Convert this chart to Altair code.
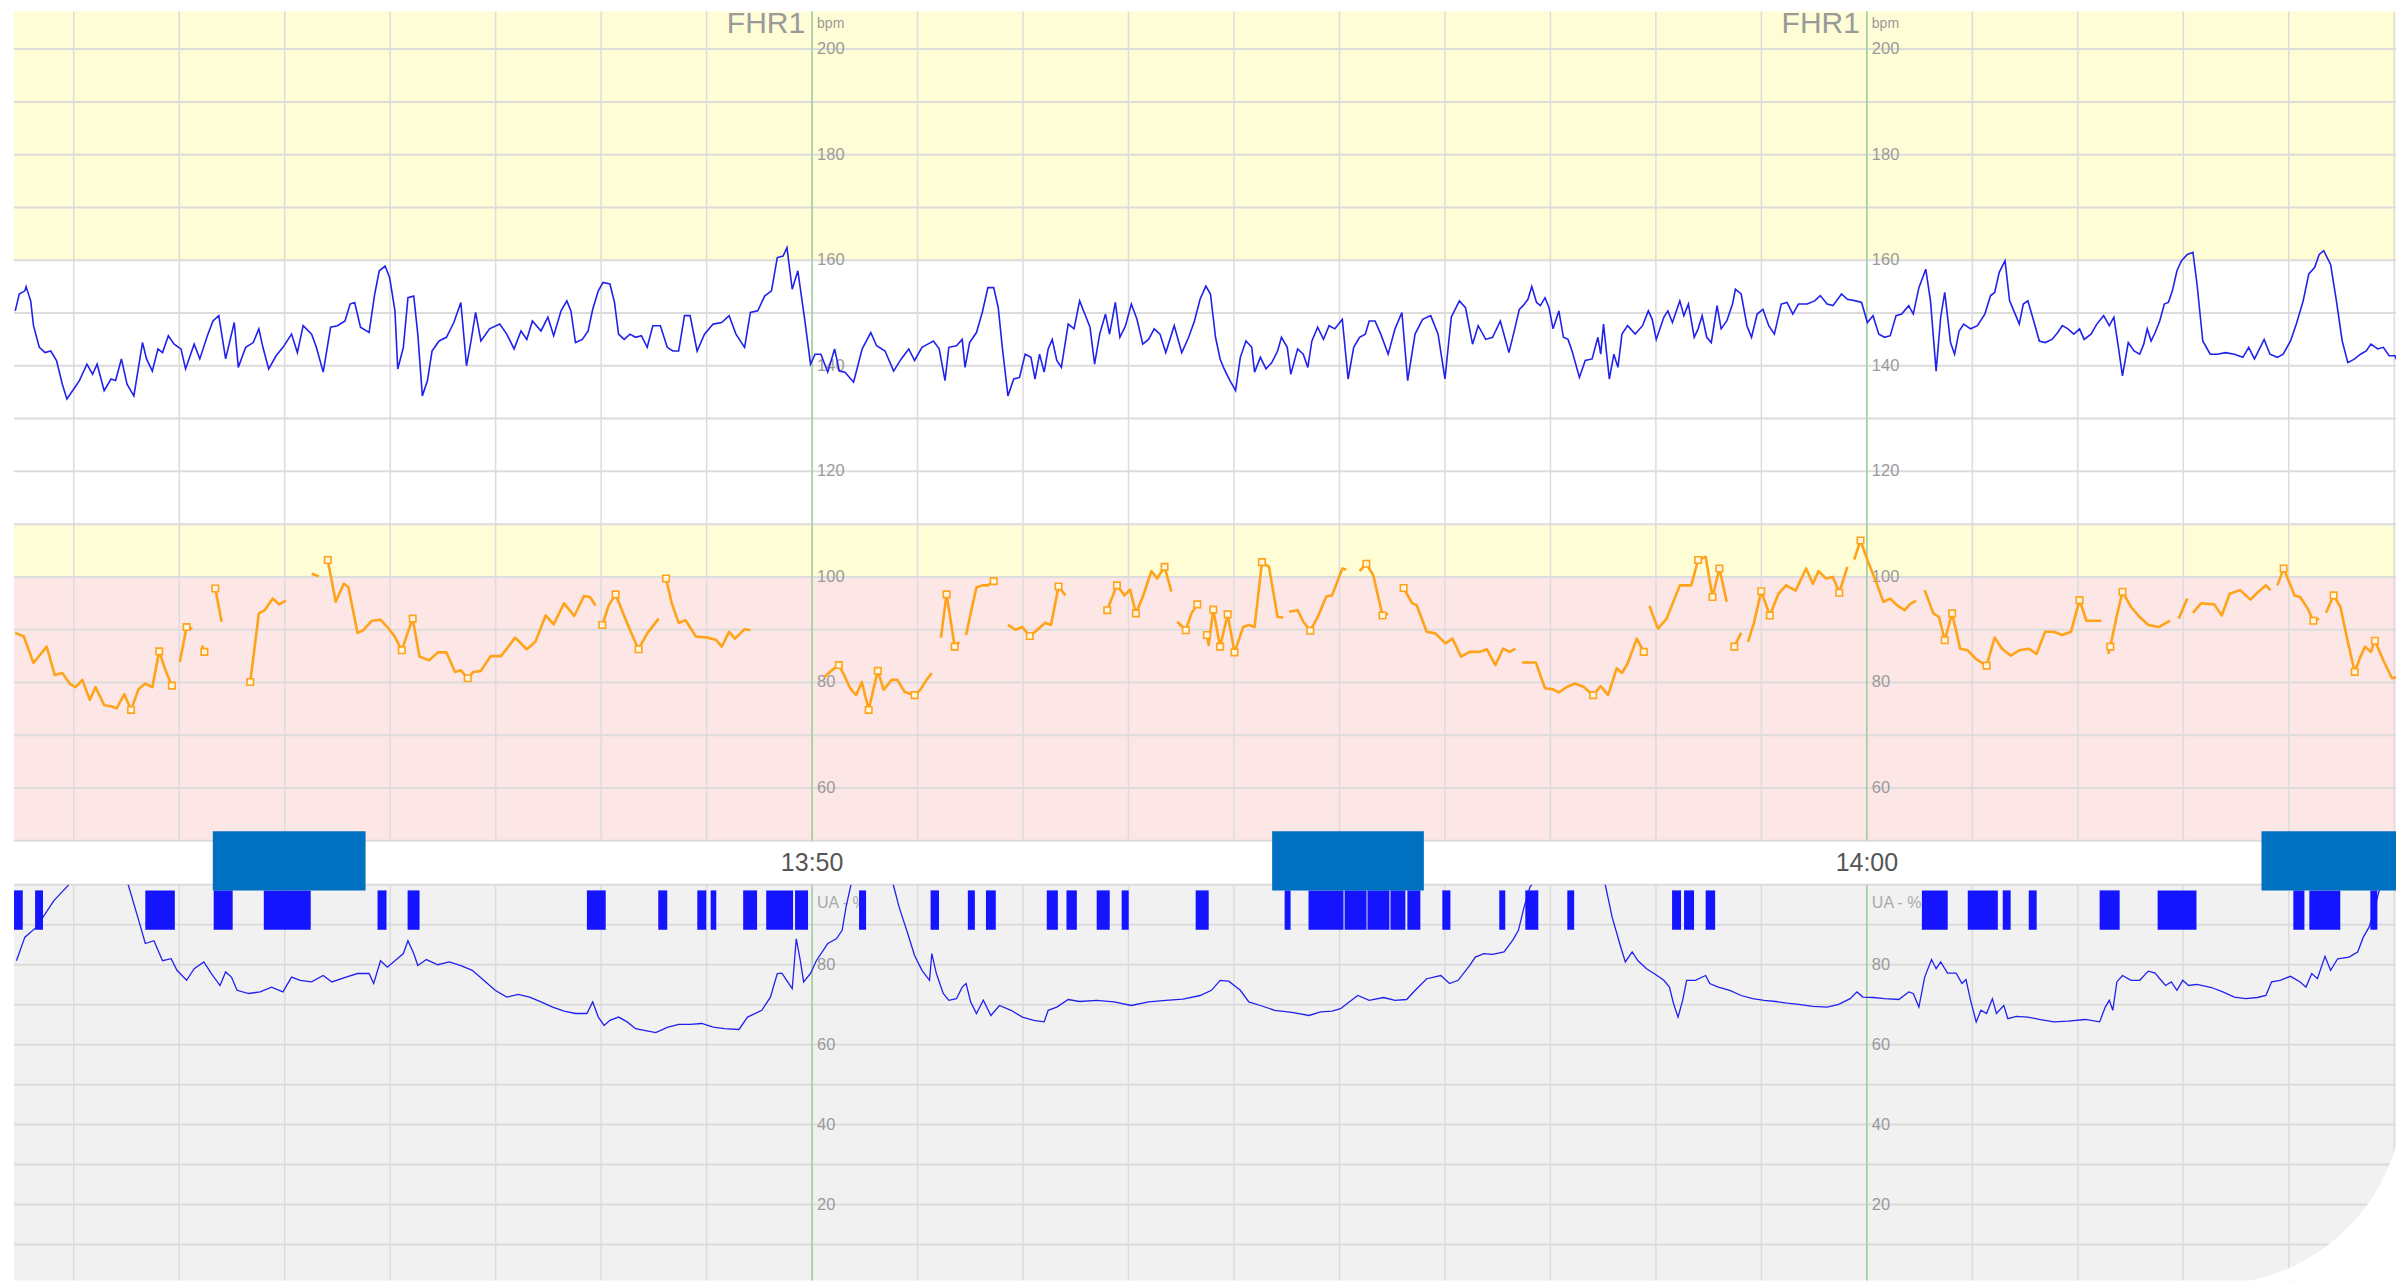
import altair as alt
import pandas as pd

# ---------------------------------------------------------------------------
# Time is expressed in seconds relative to 13:50:00
# ---------------------------------------------------------------------------
T0, T1 = -454, 901
W = 2384
H_FHR, H_STRIP, H_UA = 841, 44, 396
FHR_TOP = 207.1            # upper edge of the plotted FHR range
FHR_DOMAIN = [50, 209.2]   # includes a thin white margin above the grid
UA_DOMAIN = [1, 100]

CLOCK_TIMES = [0, 600]
CLOCK_LABELS = ["13:50", "14:00"]

# FHR1 trace (t, bpm)
fhr1 = [
    (-453.3, 150.4), (-451, 153.6), (-447.8, 154.2), (-447.1, 155), (-444.5, 152.3), (-442.9, 147.6),
    (-439.6, 143.5), (-436.3, 142.5), (-433.1, 142.8), (-429.8, 141), (-426.5, 136.5), (-423.9, 133.7),
    (-420, 135.6), (-416.8, 137.2), (-412.5, 140.3), (-409.3, 138.4), (-406.7, 140.3), (-402.7, 135.3),
    (-398.8, 137.5), (-396.2, 137.2), (-392.9, 141.3), (-389.7, 136.5), (-385.8, 134.3), (-380.9, 144.4),
    (-378.6, 141.3), (-375.3, 139), (-372.1, 143.2), (-369.5, 142.5), (-366.2, 145.7), (-362.9, 144.1),
    (-359, 143.2), (-356.4, 139.4), (-351.5, 144.1), (-348.3, 141.3), (-344, 145.7), (-340.8, 148.5),
    (-337.5, 149.5), (-333.6, 141.3), (-328.7, 148.2), (-326.4, 139.7), (-322.2, 143.5), (-317.9, 144.4),
    (-314.7, 147), (-312.4, 143.5), (-309.1, 139.4), (-304.9, 141.9), (-301, 143.5), (-296.1, 146),
    (-292.8, 142.5), (-289.5, 147.6), (-284.7, 146), (-282, 143.5), (-278.1, 138.8), (-273.9, 147.3),
    (-270, 147.6), (-265.7, 148.5), (-262.8, 151.7), (-260.2, 152), (-256.9, 147.3), (-252, 146.3),
    (-248.8, 153.6), (-246.2, 158), (-242.9, 158.9), (-240.3, 156.7), (-237.3, 150.4), (-235.7, 139.4),
    (-232.5, 143.5), (-229.9, 152.9), (-226.6, 153.2), (-224.3, 146), (-221.7, 134.3), (-218.8, 137.2),
    (-216.2, 142.8), (-212.2, 144.7), (-208, 145.4), (-203.8, 148.2), (-199.8, 152), (-196.6, 140),
    (-194, 144.7), (-191.4, 150.1), (-188.4, 144.7), (-183.5, 147), (-177.7, 147.9), (-173.7, 146),
    (-169.5, 143.2), (-165.6, 146.6), (-162.3, 145), (-159.1, 148.5), (-154.2, 146.6), (-150.3, 149.2),
    (-147, 145.7), (-142.8, 150.4), (-139.5, 152.3), (-137.2, 150.4), (-134.6, 144.4), (-130.7, 145),
    (-127.4, 146.6), (-124.8, 150.7), (-121.6, 154.2), (-118.9, 155.8), (-115, 155.5), (-112.4, 152),
    (-110.1, 146), (-106.9, 145), (-103.6, 146), (-100.4, 145.4), (-97.1, 145.7), (-93.8, 143.5),
    (-90.6, 147.6), (-86.3, 147.6), (-82.4, 143.5), (-79.2, 142.8), (-75.9, 142.8), (-72.6, 149.5),
    (-69.4, 149.5), (-65.4, 142.8), (-61.2, 146), (-56.3, 147.9), (-51.4, 148.2), (-47.2, 149.5),
    (-43.3, 146), (-38.4, 143.5), (-35.1, 150.1), (-30.9, 150.4), (-27, 153.2), (-23.1, 154.2),
    (-19.8, 160.5), (-16.5, 160.8), (-14.3, 162.4), (-11.3, 154.5), (-8.1, 158), (-4.1, 148.5),
    (-0.9, 140.3), (1.7, 142.2), (5, 142.2), (8.9, 138.8), (12.8, 143.2), (15.5, 139), (18.7, 138.8),
    (23.6, 136.9), (28.5, 143.2), (33.4, 146.3), (36.7, 143.8), (41.5, 142.8), (46.4, 139), (50.7, 141.3),
    (55, 143.2), (58.3, 141), (62.5, 143.5), (65.8, 144.1), (69, 144.7), (72.3, 143.2), (75.6, 137.2),
    (77.8, 143.5), (82.1, 143.8), (85.4, 145), (87, 139.7), (89.6, 144.4), (93.5, 146.3), (96.8, 150.1),
    (100, 154.8), (103.3, 154.8), (105.9, 151), (108.2, 143.5), (111.4, 134.3), (114.7, 137.5),
    (118, 137.8), (121.2, 142.2), (124.5, 141.6), (126.8, 137.5), (129.4, 142.2), (132, 138.8),
    (134.3, 143.2), (136.6, 145), (139.2, 141), (141.8, 139.7), (145.7, 147.9), (149, 147),
    (152.2, 152.3), (154.8, 150.1), (158.1, 147.3), (160.7, 140.3), (163.6, 146), (166.9, 149.8),
    (169.2, 146), (172.5, 152), (175.1, 145.4), (178.3, 147.6), (181.6, 151.7), (184.8, 148.8),
    (188.1, 144.1), (191.4, 145), (194.6, 147), (197.9, 146), (201.2, 142.5), (206, 147.6),
    (210.3, 142.5), (214.2, 145.4), (217.5, 148.5), (220.7, 152.6), (224, 155.1), (226.6, 153.6),
    (229.5, 145.4), (232.1, 141.3), (234.4, 139.4), (237.7, 137.2), (240.9, 135.3), (243.6, 141.6),
    (246.8, 144.7), (250.1, 143.5), (251.7, 138.8), (255, 141.6), (258.2, 139.4), (261.5, 140.6),
    (264.8, 142.8), (267, 145.4), (270.3, 143.5), (272.3, 138.4), (276.2, 143.2), (279.4, 142.2),
    (282, 139.7), (284.3, 144.7), (287.6, 147.3), (290.9, 145), (294.1, 147.6), (297.4, 147),
    (301.6, 148.8), (304.9, 137.5), (308.1, 143.5), (311.4, 145.4), (314.7, 146), (316.9, 148.5),
    (320.2, 148.5), (323.5, 146), (327.7, 142.2), (331.6, 147), (335.5, 150.1), (338.8, 137.2),
    (343, 146), (347.3, 148.8), (351.9, 149.5), (356.1, 146), (360, 137.5), (363.6, 149.2),
    (368.2, 152.3), (371.7, 151), (375.7, 144.1), (378.9, 147.6), (383.2, 145), (387.1, 145.4),
    (391.5, 148.5), (396.4, 142.5), (399.7, 147), (402.3, 150.7), (404.5, 151.4), (407.2, 152.6),
    (409.4, 155), (412.1, 152), (414.3, 151.4), (416.9, 152.9), (419.2, 151), (421.5, 147),
    (424.8, 150.4), (427.4, 145.4), (430, 145), (432.3, 142.8), (436.5, 137.8), (439.8, 141),
    (443.7, 141.3), (447, 145.4), (448.6, 142.2), (450.2, 147.9), (453.5, 137.5), (456.1, 142.2),
    (458.4, 139.7), (460.7, 146), (463.9, 147.6), (468.2, 146), (472.4, 147.6), (475.7, 150.4),
    (477.9, 148.8), (480.2, 145), (484.5, 149.2), (486.8, 150.4), (489.4, 148.2), (493.6, 152.3),
    (495.9, 149.5), (498.5, 151.7), (501.8, 145.4), (504, 147), (506.3, 149.5), (508.9, 145.4),
    (511.5, 144.4), (514.8, 151.4), (517.1, 147), (520.3, 148.5), (523.6, 151.7), (525.2, 154.5),
    (528.5, 153.6), (531.8, 147.6), (534.4, 145.4), (537.6, 149.8), (540.9, 150.7), (544.2, 147.6),
    (547.4, 146), (551.3, 151.7), (554.6, 152), (557.9, 149.8), (561.1, 151.7), (566, 151.7),
    (570.3, 152.3), (573.5, 153.3), (577.4, 151.7), (580.7, 151.4), (585.6, 153.6), (588.9, 152.6),
    (593.7, 152.3), (597, 152), (600.3, 148.2), (603.5, 149.5), (606.8, 146), (610.1, 145.4),
    (613.3, 145.7), (616.6, 149.5), (619.8, 149.8), (623.8, 151.4), (626.4, 149.8), (629.6, 154.8),
    (633.5, 158.3), (636.2, 152.3), (639.4, 139), (642, 149.2), (644.3, 153.9), (647.6, 144.4),
    (649.9, 142.2), (652.5, 146.6), (655.1, 147.9), (659, 147), (662.9, 147.6), (667.1, 149.8),
    (670.4, 153.3), (672.7, 153.9), (675.3, 157.7), (678.6, 159.9), (681.2, 152.3), (684.4, 149.8),
    (686.7, 147.9), (689, 151.7), (691.6, 152.3), (694.9, 148.5), (698.1, 144.7), (701.4, 144.4),
    (705.3, 145), (708.6, 146.3), (711.2, 147.6), (714.4, 147), (717.7, 146), (721, 147),
    (723.6, 145), (727.5, 146), (730.8, 147.9), (734.7, 149.5), (737.9, 147.6), (740.5, 149.2),
    (743.1, 143.5), (745.4, 138.1), (748.7, 144.4), (752, 142.8), (755.2, 142.2), (757.5, 144.1),
    (759.5, 147), (761.7, 144.7), (764, 146.3), (766.6, 148.5), (769.2, 151.7), (771.5, 152),
    (773.8, 154.2), (776.4, 158), (779, 159.9), (782.3, 161.1), (785.5, 161.5), (787.8, 155.5),
    (791.1, 144.7), (795.3, 142.2), (799.3, 142.2), (804.1, 142.5), (809, 142.2), (813.9, 141.6),
    (817.2, 143.5), (820.5, 141.3), (826, 145), (829.3, 142.2), (833.5, 141.6), (836.8, 142.2),
    (841, 144.7), (844.3, 147.9), (848.2, 152.3), (851.4, 157.4), (854.7, 158.6), (857.3, 161.1),
    (859.9, 161.8), (863.8, 159.2), (867.1, 152.3), (870.4, 144.7), (873.6, 140.6), (877.5, 141.3),
    (880.8, 142.2), (884.1, 142.8), (886.7, 144.1), (890.6, 143.2), (893.8, 143.5), (897.1, 141.9),
    (900.4, 141.9), (903, 139.7),
]

# Second heart-rate trace, recorded in segments; third value flags a sample marker
mhr_segments = [
    [(-453.3, 89.4, 0), (-448.4, 88.7, 0), (-442.9, 83.7, 0), (-438.6, 85.5, 0), (-435.4, 86.8, 0),
     (-430.8, 81.4, 0), (-426.5, 81.8, 0), (-422.3, 79.8, 0), (-419, 79.1, 0), (-415.1, 80.5, 0),
     (-410.9, 76.7, 0), (-407.6, 79.1, 0), (-402.7, 75.7, 0), (-398.8, 75.5, 0), (-395.6, 75.1, 0),
     (-391.3, 77.8, 0), (-387.4, 74.8, 1), (-383.2, 78.7, 0), (-379.3, 79.8, 0), (-375.3, 79.1, 0),
     (-371.4, 85.9, 1), (-367.8, 82.3, 0), (-364.2, 79.4, 1)],
    [(-359.7, 83.9, 0), (-355.8, 90.5, 1), (-352.5, 90.2, 0)],
    [(-347, 87.0, 0), (-345.7, 85.8, 1)],
    [(-339.5, 97.8, 1), (-335.9, 91.5, 0)],
    [(-319.6, 80.1, 1), (-314.7, 93.1, 0), (-311.4, 93.7, 0), (-306.8, 95.9, 0), (-303.2, 94.8, 0),
     (-299.3, 95.5, 0)],
    [(-284.7, 100.6, 0), (-280.5, 100.1, 0)],
    [(-275.5, 103.2, 1), (-271, 95.3, 0), (-266.4, 98.7, 0), (-263.8, 98.1, 0), (-258.6, 89.4, 0),
     (-255.3, 89.9, 0), (-250.4, 91.7, 0), (-245.5, 91.9, 0), (-241.6, 90.5, 0), (-237.4, 88.7, 0),
     (-233.4, 86.1, 1), (-229.9, 89.6, 0), (-227.2, 92.1, 1), (-223.3, 84.9, 0), (-217.8, 84.2, 0),
     (-212.9, 85.7, 0), (-208, 85.7, 0), (-203.1, 82, 0), (-199.8, 82.3, 0), (-195.9, 80.8, 1),
     (-192.7, 82, 0), (-188.4, 82.2, 0), (-182.9, 85, 0), (-177, 85, 0), (-173.7, 86.4, 0),
     (-168.9, 88.5, 0), (-162.3, 86.3, 0), (-157.4, 87.7, 0), (-151.6, 92.7, 0), (-147, 91, 0),
     (-141.1, 95, 0), (-135.3, 92.6, 0), (-129.7, 96.4, 0), (-126.4, 96.2, 0), (-123.2, 94.6, 0)],
    [(-119.3, 90.9, 1), (-115.7, 94.6, 0), (-111.8, 96.7, 1), (-105.9, 91.8, 0), (-102, 88.7, 0),
     (-98.7, 86.3, 1), (-93.8, 89.3, 0), (-87.3, 92.1, 0)],
    [(-83.1, 99.7, 1), (-79.8, 95, 0), (-75.9, 91.3, 0), (-72, 91.8, 0), (-66.1, 88.7, 0),
     (-59.6, 88.5, 0), (-54.7, 88.1, 0), (-51.4, 86.8, 0), (-47.2, 89.6, 0), (-43.9, 88.3, 0),
     (-38.4, 90.1, 0), (-35.1, 89.9, 0)],
    [(7.1, 81.1, 0), (11.3, 82.3, 0), (15.2, 83.3, 1), (17.8, 81.7, 0), (21.7, 78.9, 0), (25, 77.6, 0),
     (28.3, 80.1, 0), (32.2, 74.8, 1), (34.8, 78.6, 0), (37.4, 82.2, 1), (40.7, 78.6, 0), (45.2, 80.5, 0),
     (48.5, 80.5, 0), (52.7, 78.2, 0), (58.3, 77.6, 1), (61.5, 78.6, 0), (65.1, 80.5, 0), (68.1, 81.8, 0)],
    [(73.3, 88.5, 0), (76.5, 96.7, 1), (78.8, 91.8, 0), (81.1, 86.8, 1), (83.7, 87.7, 0)],
    [(87.6, 89, 0), (90.2, 93.1, 0), (93.5, 98, 0), (96.8, 98.4, 0), (100, 98.4, 0), (103.3, 99.2, 1)],
    [(111.4, 90.9, 0), (115.7, 90, 0), (119.6, 90.5, 0), (123.8, 88.8, 1), (127.8, 89.9, 0),
     (132.6, 91.3, 0), (135.9, 90.9, 0), (140.2, 98.2, 1), (144.1, 96.5, 0)],
    [(167.9, 93.7, 1), (171.1, 96.5, 0), (173.4, 98.4, 1), (177.7, 96.5, 0), (180.9, 97.6, 0),
     (184.2, 93.1, 1), (188.1, 96.2, 0), (193, 101.1, 0), (196.3, 99.7, 0), (200.5, 101.9, 1),
     (204.4, 97.2, 0)],
    [(207.7, 91.5, 0), (212.6, 89.9, 1), (215.8, 93.1, 0), (219.1, 94.8, 1)],
    [(224.6, 89, 1), (225.6, 87.1, 0), (228.2, 93.8, 1), (232.1, 86.8, 1), (236.4, 92.9, 1),
     (240.3, 85.7, 1), (245.2, 90.5, 0), (248.4, 90.9, 0), (251.7, 90.5, 0), (255.9, 102.8, 1),
     (259.9, 101.9, 0), (264.8, 92.4, 0), (268, 92.3, 0)],
    [(271.3, 93.4, 0), (276.2, 93.7, 0), (279.4, 91.5, 0), (283.4, 89.8, 1), (287.6, 92.4, 0),
     (292.5, 96.3, 0), (295.8, 96.5, 0), (301.6, 101.6, 0), (303.9, 101.4, 0)],
    [(311.4, 101.1, 0), (315.3, 102.5, 1), (319.2, 100.3, 0), (324.5, 92.7, 1), (327.7, 93, 0)],
    [(336.5, 97.9, 1), (341.4, 95, 0), (344, 94.6, 0), (349.6, 89.6, 0), (354.5, 89.3, 0),
     (360.3, 87.4, 0), (364.3, 88.3, 0), (369.1, 84.9, 0), (374, 85.8, 0), (379.9, 85.8, 0),
     (383.8, 86.3, 0), (388.7, 83.3, 0), (393, 86.4, 0), (396.9, 85.8, 0), (400.1, 86.4, 0)],
    [(403.9, 83.8, 0), (411.7, 83.8, 0), (416.9, 78.9, 0), (421.5, 78.7, 0), (424.8, 78.1, 0),
     (429, 79.1, 0), (433.9, 79.8, 0), (438.8, 79.2, 0), (444.3, 77.6, 1), (448.6, 79.3, 0),
     (452.8, 77.6, 0), (457.7, 82.7, 0), (460.7, 81.8, 0), (463.9, 83.6, 0), (469.1, 88.3, 0),
     (473.1, 85.8, 1)],
    [(476.3, 94.5, 0), (481.2, 90.2, 0), (486.1, 92.1, 0), (493.6, 98.4, 0), (500.1, 98.4, 0),
     (504, 103.2, 1), (508.3, 103.8, 0), (512.2, 96.2, 1), (516.1, 101.6, 1), (520.3, 95.3, 0)],
    [(524.6, 86.8, 1), (528.5, 89.4, 0)],
    [(532.4, 87.7, 0), (535.7, 91.2, 0), (539.9, 97.3, 1), (544.8, 92.7, 1), (549.7, 96.8, 0),
     (554, 98.4, 0), (559.5, 97.4, 0), (565.4, 101.6, 0), (569.3, 98.7, 0), (572.5, 101.1, 0),
     (576.8, 99.7, 0), (580.7, 100, 0), (584.3, 97, 1), (588.9, 101.9, 0)],
    [(592.8, 103.3, 0), (596.4, 106.9, 1), (600.3, 103.2, 0), (605.2, 99.1, 0), (609.4, 95.3, 0),
     (613.3, 95.9, 0), (617.2, 94.6, 0), (621.5, 93.7, 0), (624.7, 94.9, 0), (628, 95.5, 0)],
    [(632.9, 97.5, 0), (637.8, 93.1, 0), (641, 92.4, 0), (644.3, 88, 1), (648.5, 93.1, 1),
     (653.1, 86.4, 0), (657.4, 86.1, 0), (662.2, 84.4, 0), (668.1, 83.2, 1), (672.7, 88.5, 0),
     (676.9, 86.4, 0), (681.8, 85.1, 0), (686.7, 86.1, 0), (692.3, 86.4, 0), (696.5, 85.4, 0),
     (701.4, 89.6, 0), (706.3, 89.6, 0), (711.2, 89, 0), (716.1, 89.6, 0), (721, 95.6, 1),
     (724.9, 91.7, 0), (733.4, 91.7, 0)],
    [(737.3, 85.4, 0), (738.5, 86.8, 1), (742.2, 92.7, 0), (745.4, 97.2, 1), (750.3, 94.3, 0),
     (755.2, 92.4, 0), (760.1, 90.9, 0), (766, 90.5, 0), (772.5, 91.7, 0)],
    [(777.4, 92.1, 0), (782.3, 95.9, 0)],
    [(785.5, 93.2, 0), (790.1, 95, 0), (797.6, 94.8, 0), (801.9, 92.7, 0), (806.4, 96.8, 0),
     (812.3, 97.5, 0), (818.2, 95.7, 0), (822.7, 97.2, 0), (827, 98.4, 0), (829.6, 97.5, 0)],
    [(833.5, 98.4, 0), (837.1, 101.6, 1), (843.3, 96.5, 0), (846.5, 96.2, 0), (850.8, 94, 0),
     (854, 91.7, 1), (857.3, 92.1, 0)],
    [(861.2, 93.2, 0), (865.5, 96.5, 1), (869.4, 94.3, 0), (873.6, 87.7, 0), (877.5, 82, 1),
     (880.8, 84.9, 0), (883.4, 86.8, 0), (886.7, 85.8, 0), (889, 87.9, 1), (893.8, 84.2, 0),
     (898.7, 80.8, 0), (903, 81.1, 0)],
]

# Uterine activity trace (t, %); values above 100 run off the top of the panel
ua = [
    (-452.6, 81), (-447.8, 86.9), (-441.2, 89.4), (-431.4, 96), (-423.3, 99.8), (-406, 112), (-389, 100),
    (-382.5, 90.3), (-379.3, 85.3), (-374.4, 86), (-369.5, 81), (-364.6, 81.5), (-361.3, 78.6),
    (-355.8, 76.1), (-351.5, 79), (-346, 80.7), (-341.7, 77.8), (-336.8, 74.8), (-333.6, 78.2),
    (-330.3, 76.9), (-327.1, 73.6), (-320.5, 72.8), (-314, 73.2), (-307.5, 74.4), (-301, 73.2),
    (-296.1, 76.9), (-291.2, 76.1), (-284.7, 75.7), (-278.1, 77.3), (-273.2, 75.7), (-265.1, 76.9),
    (-258.6, 77.8), (-252, 77.8), (-249.4, 75.3), (-245.5, 81), (-241.6, 79.4), (-237.3, 81),
    (-232.5, 82.8), (-229.9, 86), (-226.6, 82.8), (-224.3, 79.8), (-219.4, 81.3), (-212.9, 80),
    (-206.4, 80.7), (-199.8, 79.8), (-193.3, 78.6), (-186.8, 76.1), (-180.3, 73.6), (-173.7, 71.9),
    (-167.2, 72.6), (-160.7, 71.9), (-154.2, 70.7), (-147.6, 69.4), (-141.1, 68.4), (-134.6, 67.8),
    (-128.1, 67.8), (-124.8, 70.7), (-121.6, 66.9), (-118.3, 64.8), (-115, 66.1), (-110.1, 66.9),
    (-105.2, 65.7), (-100.4, 64), (-95.5, 63.6), (-88.9, 63), (-82.4, 64.3), (-75.9, 65.1),
    (-69.4, 65.1), (-62.8, 65.3), (-56.3, 64.4), (-49.8, 64), (-41.6, 63.8), (-36.7, 66.9),
    (-28.6, 68.6), (-23.7, 71.9), (-19.8, 77.8), (-17.2, 77.9), (-13.9, 75.7), (-11.3, 74), (-9, 86.5),
    (-6.7, 81), (-4.8, 75.7), (-0.9, 77.8), (2.4, 81), (8.9, 85.3), (13.8, 86.5), (17.1, 88.6),
    (19.3, 94.4), (22, 99.8), (34, 115), (46.2, 100), (49.5, 94.4), (54.4, 87.8), (58.3, 82.3),
    (62.5, 78.6), (66.8, 76.1), (68.1, 82.8), (70.7, 77.8), (74.6, 72.8), (77.8, 71.1), (82.1, 71.5),
    (85.4, 74.4), (87.6, 75.3), (90.2, 70.7), (93.5, 67.8), (97.4, 71.1), (101.7, 67.3), (106.6, 69.8),
    (113.1, 68.6), (119.6, 66.9), (126.1, 66.1), (132, 65.7), (134.3, 68.6), (139.2, 69.4),
    (145.7, 71.3), (152.2, 70.8), (162, 71.1), (171.8, 70.7), (181.6, 69.8), (191.4, 70.7),
    (201.2, 71.1), (210.9, 71.4), (220.7, 72.3), (227.2, 73.6), (232.1, 76.1), (237, 75.9),
    (243.6, 73.6), (248.4, 70.7), (255, 69.8), (263.1, 68.6), (272.9, 68.1), (282.7, 67.3),
    (289.2, 68.2), (295.8, 68.4), (300.6, 69), (305.5, 70.7), (310.4, 72.3), (316.9, 71.1),
    (325.1, 71.8), (331.6, 71.1), (338.2, 71.3), (343.1, 73.6), (349.6, 76.5), (357.7, 77.3),
    (362.6, 75.3), (367.5, 76.1), (374, 79.8), (377.3, 81.9), (382.2, 82.8), (387.1, 82.6),
    (393.6, 83.2), (398.5, 86.1), (401.8, 88.6), (405, 94.4), (408.3, 99.4), (430, 112), (451.2, 100),
    (455.1, 91.9), (459.4, 85.3), (462.6, 80.7), (466.5, 83.2), (469.8, 81), (474.7, 79), (479.6, 77.6),
    (484.5, 76.1), (487.7, 74.4), (490, 70.3), (492.6, 66.9), (495.2, 71.1), (497.5, 76.1),
    (502.4, 76.1), (508.3, 77.3), (510.6, 75.3), (515.5, 74.4), (522, 73.6), (528.5, 72.3), (535, 71.5),
    (541.6, 71.1), (548.1, 70.8), (554.6, 70.4), (561.1, 70.1), (569.3, 69.6), (577.4, 69.4), (584, 70.1),
    (590.5, 71.5), (594.4, 73.2), (597.7, 71.9), (603.5, 71.8), (610.1, 71.5), (618.2, 71.3),
    (623.8, 73.2), (626.4, 72.8), (629.6, 69.4), (632.9, 76.9), (636.8, 81.3), (639.4, 79), (642, 80.7),
    (645.9, 77.9), (650.8, 77.9), (654.1, 75.3), (656.4, 76.3), (659, 71.1), (662.2, 65.7), (664.9, 68.6),
    (668.1, 67.8), (671.4, 71.5), (673.7, 67.8), (677.9, 69.8), (680.2, 66.5), (685.1, 67.1),
    (691.6, 66.9), (698.1, 66.3), (706.3, 65.7), (714.4, 65.9), (724.2, 66.3), (732.4, 65.7),
    (735.6, 69.4), (737.9, 71.1), (739.9, 68.6), (742.2, 75.7), (745.4, 77.3), (750.3, 76.1),
    (755.2, 76.1), (760.1, 78.4), (764, 77.9), (766.6, 76.5), (769.9, 74.8), (773.2, 75.7), (776.4, 73.6),
    (779.7, 76.1), (783, 74.8), (787.8, 75.1), (796, 74.3), (802.5, 73.2), (809, 71.9), (815.6, 71.5),
    (822.1, 71.8), (827, 72.3), (830.2, 75.7), (835.1, 76.1), (841, 77.1), (846.5, 75.7), (849.8, 74.4),
    (853.1, 77.8), (856.3, 76.5), (860.6, 82.1), (863.8, 78.6), (867.8, 81.5), (874.3, 81.9),
    (879.2, 83.2), (882.4, 86.9), (885.7, 89.4), (889, 94.4), (892.2, 99.8), (900, 110),
]

# Movement event bars (start, end) in seconds
movements = [
    (-454, -449), (-442, -437.5), (-379.3, -362.5), (-340.4, -329.6), (-311.9, -285.2), (-247.2, -242.1),
    (-230.1, -223.3), (-128.1, -117.4), (-87.5, -82.4), (-65.3, -60.2), (-57.7, -54.5), (-39.2, -31.3),
    (-26.1, -10.8), (-9.7, -2.3), (26.7, 30.7), (67.4, 72.2), (88.6, 92.6), (98.9, 104.5), (133.5, 139.8),
    (144.7, 150.6), (161.9, 169.3), (176.1, 180.1), (218.2, 225.6), (268.8, 272.2), (282.4, 302.3),
    (302.9, 315.4), (315.9, 328.4), (329, 337.5), (338.6, 346), (358.5, 363.1), (390.9, 394.3),
    (405.7, 413.1), (429.6, 433.5), (489.2, 494.3), (496, 501.7), (508.3, 513.7), (631.3, 646),
    (657.4, 674.5), (677.3, 681.8), (692.1, 696.6), (732.4, 743.8), (765.4, 787.5), (842.6, 848.9),
    (851.7, 869.3), (886.4, 890.4),
]

# Solid blocks laid over the time strip (start, end)
blocks = [(-340.9, -254), (261.7, 348), (824.5, 901)]

FHR_TICKS = [200, 180, 160, 140, 120, 100, 80, 60]
UA_TICKS = [80, 60, 40, 20]

# ---------------------------------------------------------------------------
FONT = "Liberation Sans"
GRID = "#dcdcdc"
GREEN = "#8fd08f"
LABEL = "#9a9a9a"

xs = alt.Scale(domain=[T0, T1], nice=False, zero=False)
fhr_ys = alt.Scale(domain=FHR_DOMAIN, nice=False, zero=False)
ua_ys = alt.Scale(domain=UA_DOMAIN, nice=False, zero=False)


def X(field):
    return alt.X(f"{field}:Q", scale=xs, axis=None)


def Y(field, scale):
    return alt.Y(f"{field}:Q", scale=scale, axis=None)


fhr_df = pd.DataFrame(fhr1, columns=["t", "v"])
ua_df = pd.DataFrame(ua, columns=["t", "v"])
mhr_rows = []
for i, seg in enumerate(mhr_segments):
    for t, v, m in seg:
        mhr_rows.append({"t": t, "v": v, "seg": i, "marker": m})
mhr_df = pd.DataFrame(mhr_rows)
mov_df = pd.DataFrame(movements, columns=["t0", "t1"]).assign(lo=88.75, hi=98.6)
blk_df = pd.DataFrame(blocks, columns=["t0", "t1"]).assign(lo=98.6, hi=113.4)
minutes = list(range(-420, 901, 60))
fhr_minute_df = pd.DataFrame({"t": minutes, "lo": FHR_DOMAIN[0], "hi": FHR_TOP})
ua_minute_df = pd.DataFrame({"t": minutes, "lo": UA_DOMAIN[0], "hi": UA_DOMAIN[1]})
clock_df = pd.DataFrame({"t": CLOCK_TIMES, "label": CLOCK_LABELS,
                         "lo": FHR_DOMAIN[0], "hi": FHR_TOP,
                         "ua_lo": UA_DOMAIN[0], "ua_hi": UA_DOMAIN[1]})

# ------------------------------- FHR panel --------------------------------
fhr_bands = pd.DataFrame({
    "lo": [FHR_TOP, 160, 110, 100, 50],
    "hi": [FHR_DOMAIN[1], FHR_TOP, 160, 110, 100],
    "fill": ["#ffffff", "#fffdd6", "#ffffff", "#fffdd6", "#fde6e6"],
})
bands = alt.Chart(fhr_bands).mark_rect().encode(
    x=alt.value(0), x2=alt.value(W),
    y=Y("lo", fhr_ys), y2="hi:Q",
    color=alt.Color("fill:N", scale=None),
)
hgrid = alt.Chart(pd.DataFrame({"v": list(range(50, 201, 10))})).mark_rule(
    color=GRID, strokeWidth=2).encode(x=alt.value(0), x2=alt.value(W), y=Y("v", fhr_ys))
vgrid = alt.Chart(fhr_minute_df).mark_rule(color=GRID, strokeWidth=1.5).encode(
    x=X("t"), y=Y("lo", fhr_ys), y2="hi:Q")
green = alt.Chart(clock_df).mark_rule(color=GREEN, strokeWidth=1.3).encode(
    x=X("t"), y=Y("lo", fhr_ys), y2="hi:Q")
tick_df = pd.DataFrame([(t, v) for t in CLOCK_TIMES for v in FHR_TICKS], columns=["t", "v"])
ticks = alt.Chart(tick_df).mark_text(
    align="left", baseline="middle", dx=5, fontSize=16.5, font=FONT, color=LABEL
).encode(x=X("t"), y=Y("v", fhr_ys), text=alt.Text("v:Q"))
title_lbl = alt.Chart(clock_df).mark_text(
    align="right", baseline="middle", dx=-7, fontSize=30, font=FONT, color="#9a9a9a", text="FHR1"
).encode(x=X("t"), y=alt.value(23))
unit_lbl = alt.Chart(clock_df).mark_text(
    align="left", baseline="middle", dx=5, fontSize=14, font=FONT, color=LABEL, text="bpm"
).encode(x=X("t"), y=alt.value(23))
fhr_line = alt.Chart(fhr_df).mark_line(color="#2121ee", strokeWidth=1.6, clip=True).encode(
    x=X("t"), y=Y("v", fhr_ys))
mhr_line = alt.Chart(mhr_df).mark_line(
    color="#ffa31a", strokeWidth=2.6, clip=True, strokeJoin="round"
).encode(x=X("t"), y=Y("v", fhr_ys), detail="seg:N")
mhr_pts = alt.Chart(mhr_df).transform_filter(alt.datum.marker == 1).mark_point(
    shape="square", filled=True, fill="#fff6e0", stroke="#ffa31a", strokeWidth=1.6, size=42, opacity=1
).encode(x=X("t"), y=Y("v", fhr_ys))

fhr_panel = alt.layer(
    bands, hgrid, vgrid, green, ticks, title_lbl, unit_lbl, fhr_line, mhr_line, mhr_pts
).properties(width=W, height=H_FHR)

# ------------------------------ time strip --------------------------------
clock = alt.Chart(clock_df).mark_text(
    align="center", baseline="middle", fontSize=25, font=FONT, color="#555555"
).encode(x=X("t"), y=alt.value(22), text="label:N")
strip = clock.properties(width=W, height=H_STRIP)

# ------------------------------- UA panel ---------------------------------
ua_bg = alt.Chart(pd.DataFrame({"lo": [UA_DOMAIN[0]], "hi": [UA_DOMAIN[1]]})).mark_rect(
    color="#f1f1f1").encode(x=alt.value(0), x2=alt.value(W), y=Y("lo", ua_ys), y2="hi:Q")
ua_hgrid = alt.Chart(pd.DataFrame({"v": list(range(10, 101, 10))})).mark_rule(
    color=GRID, strokeWidth=2).encode(x=alt.value(0), x2=alt.value(W), y=Y("v", ua_ys))
ua_vgrid = alt.Chart(ua_minute_df).mark_rule(color=GRID, strokeWidth=1.5).encode(
    x=X("t"), y=Y("lo", ua_ys), y2="hi:Q")
ua_green = alt.Chart(clock_df).mark_rule(color=GREEN, strokeWidth=1.3).encode(
    x=X("t"), y=Y("ua_lo", ua_ys), y2="ua_hi:Q")
ua_tick_df = pd.DataFrame([(t, v) for t in CLOCK_TIMES for v in UA_TICKS], columns=["t", "v"])
ua_ticks = alt.Chart(ua_tick_df).mark_text(
    align="left", baseline="middle", dx=5, fontSize=16.5, font=FONT, color=LABEL
).encode(x=X("t"), y=Y("v", ua_ys), text=alt.Text("v:Q"))
ua_unit = alt.Chart(clock_df).mark_text(
    align="left", baseline="middle", dx=5, fontSize=16, font=FONT, color="#aaaaaa", text="UA - %"
).encode(x=X("t"), y=alt.value(18))
ua_line = alt.Chart(ua_df).mark_line(color="#2121ee", strokeWidth=1.3, clip=True).encode(
    x=X("t"), y=Y("v", ua_ys))
mov = alt.Chart(mov_df).mark_rect(color="#1414ff").encode(
    x=X("t0"), x2="t1:Q", y=Y("lo", ua_ys), y2="hi:Q")
# rounded lower-right corner of the frame
corner = alt.Chart(pd.DataFrame({"t": [796.2], "v": [48.05]})).mark_arc(
    color="#ffffff", innerRadius=192, outerRadius=300, theta=1.5708, theta2=3.1416, clip=True
).encode(x=X("t"), y=Y("v", ua_ys))
blk = alt.Chart(blk_df).mark_rect(color="#0070c0").encode(
    x=X("t0"), x2="t1:Q", y=Y("lo", ua_ys), y2="hi:Q")

ua_panel = alt.layer(
    ua_bg, ua_hgrid, ua_vgrid, ua_green, ua_ticks, ua_unit, ua_line, mov, corner, blk
).properties(width=W, height=H_UA)

chart = alt.vconcat(fhr_panel, strip, ua_panel, spacing=0, bounds="flush").properties(
    padding={"left": 13, "top": 0, "right": 0, "bottom": 0},
    background="#ffffff",
).configure_view(stroke=None)

chart.save("out.html", embed_options={"renderer": "svg", "actions": False})
